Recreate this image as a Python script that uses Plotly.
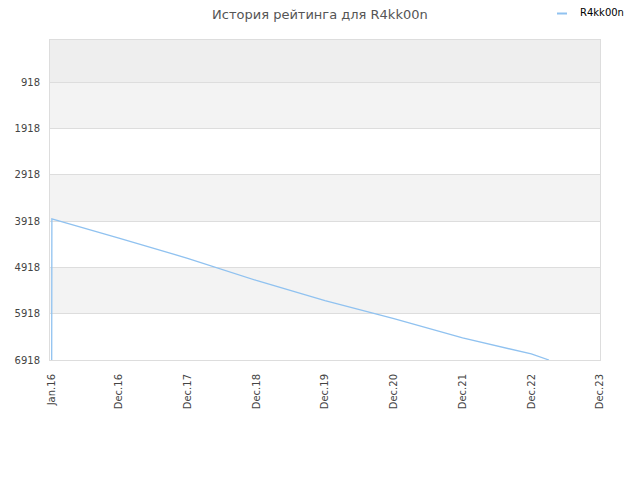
import plotly.graph_objects as go

dates = ["2015-12-10", "2015-12-11", "2016-12-01", "2017-12-01", "2018-12-01",
         "2019-12-01", "2020-12-01", "2021-12-01", "2022-12-01", "2023-03-05"]
ratings = [6918, 3870, 4288, 4722, 5200, 5635, 6027, 6440, 6788, 6918]
series_name = "R4kk00n"

tick_vals = ["2015-12-10", "2016-12-01", "2017-12-01", "2018-12-01", "2019-12-01",
             "2020-12-01", "2021-12-01", "2022-12-01", "2023-12-01"]
tick_text = ["Jan.16", "Dec.16", "Dec.17", "Dec.18", "Dec.19",
             "Dec.20", "Dec.21", "Dec.22", "Dec.23"]
y_ticks = [918, 1918, 2918, 3918, 4918, 5918, 6918]

line_color = "#90c2f0"

fig = go.Figure()
fig.add_trace(go.Scatter(x=dates, y=ratings, mode="lines", name=series_name,
                         line=dict(color=line_color, width=1.3), showlegend=False))

bands = [(10, 918, "#eeeeee"), (918, 1918, "#f3f3f3"),
         (2918, 3918, "#f3f3f3"), (4918, 5918, "#f3f3f3")]
for y0, y1, c in bands:
    fig.add_shape(type="rect", xref="paper", yref="y", x0=0, x1=1, y0=y0, y1=y1,
                  fillcolor=c, line=dict(width=0), layer="below")

# legend drawn manually (short line key, as in the reference)
fig.add_shape(type="line", xref="paper", yref="paper", x0=0.9218, x1=0.940,
              y0=1.0828, y1=1.0828, line=dict(color=line_color, width=2))
fig.add_annotation(text=series_name, xref="paper", yref="paper", x=0.960, y=1.0845,
                   xanchor="left", yanchor="middle", showarrow=False,
                   font=dict(family="DejaVu Sans", size=10, color="#000"))

fig.update_layout(
    width=632, height=472,
    margin=dict(l=42, r=40, t=32, b=120),
    paper_bgcolor="white", plot_bgcolor="white",
    title=dict(text="История рейтинга для R4kk00n", x=0.4935, xanchor="center",
               y=0.987, yanchor="middle",
               font=dict(family="DejaVu Sans", size=13, color="#555")),
    showlegend=False,
    font=dict(family="DejaVu Sans", size=10, color="#444"),
)
fig.update_xaxes(type="date", range=["2015-12-01", "2023-12-01"],
                 tickvals=tick_vals, ticktext=tick_text, tickangle=-90,
                 showgrid=False, showline=True, linecolor="#dddddd", mirror=True,
                 zeroline=False, ticks="outside", ticklen=9, automargin=False,
                 tickcolor="rgba(0,0,0,0)", tickfont=dict(size=10, color="#444"))
fig.update_yaxes(range=[6918, 10], tickvals=y_ticks,
                 showgrid=True, gridcolor="#dddddd", showline=True,
                 linecolor="#dddddd", mirror=True, zeroline=False, automargin=False,
                 ticks="outside", ticklen=7, tickcolor="rgba(0,0,0,0)",
                 tickfont=dict(size=10, color="#444"))

fig.write_html("out.html")
